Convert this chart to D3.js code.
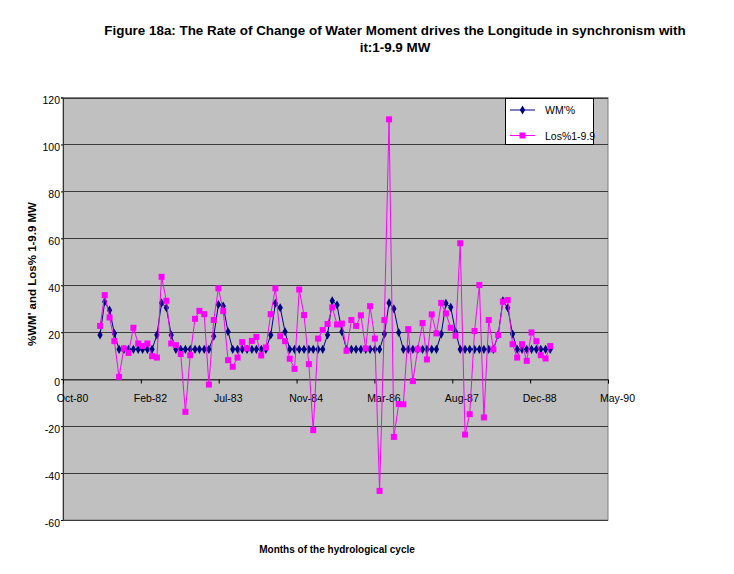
<!DOCTYPE html>
<html>
<head>
<meta charset="utf-8">
<script src="https://cdn.jsdelivr.net/npm/d3@7"></script>
<style>
  body { margin: 0; background: #fff; }
  text { font-family: "Liberation Sans", Arial, sans-serif; }
</style>
</head>
<body>
<script>
// monthly values, Jun-81 .. May-89
var wmValues = [
	18.8, 33.0, 29.4, 19.5, 12.7, 12.7, 12.7, 12.7, 12.7, 12.7, 12.7, 12.7,
	18.8, 32.5, 30.4, 18.8, 12.7, 12.7, 12.7, 12.7, 12.7, 12.7, 12.7, 12.7,
	18.3, 31.8, 31.1, 20.2, 12.7, 12.7, 12.7, 12.7, 12.7, 12.7, 12.7, 12.7,
	18.8, 32.3, 30.4, 20.2, 12.7, 12.7, 12.7, 12.7, 12.7, 12.7, 12.7, 12.7,
	18.8, 33.4, 31.6, 20.2, 12.7, 12.7, 12.7, 12.7, 12.7, 12.7, 12.7, 12.7,
	19.2, 32.5, 30.0, 19.9, 12.7, 12.7, 12.7, 12.7, 12.7, 12.7, 12.7, 12.7,
	19.2, 32.3, 30.6, 20.2, 12.7, 12.7, 12.7, 12.7, 12.7, 12.7, 12.7, 12.7,
	19.0, 33.4, 30.4, 19.2, 12.7, 12.7, 12.7, 12.7, 12.7, 12.7, 12.7, 12.7
];

var losValues = [
	22.7, 35.8, 26.3, 16.2, 1.0, 13.1, 11.2, 21.9, 15.2, 14.1, 15.2, 9.8,
	9.2, 43.6, 33.4, 15.2, 14.5, 10.7, -13.9, 10.2, 25.7, 29.1, 27.7, -2.3,
	25.2, 38.7, 29.0, 8.1, 5.3, 9.2, 15.8, 13.1, 16.3, 18.0, 10.1, 13.5,
	27.7, 38.7, 18.3, 16.2, 8.7, 4.4, 38.2, 27.3, 6.4, -21.7, 17.3, 20.9,
	23.5, 30.6, 23.3, 23.7, 12.1, 25.2, 22.7, 27.2, 13.1, 31.1, 17.3, -47.6,
	25.2, 110.7, -24.6, -10.6, -10.7, 21.3, -0.8, 12.7, 23.9, 8.4, 27.6, 19.5,
	32.5, 28.0, 21.9, 18.5, 57.9, -23.6, -14.9, 20.5, 40.1, -16.3, 25.2, 12.7,
	18.8, 33.0, 33.7, 14.9, 9.2, 14.9, 7.8, 19.9, 16.2, 10.2, 8.8, 14.1
];

var months = d3.utcMonth.range(new Date(Date.UTC(1981, 5, 1)), new Date(Date.UTC(1989, 5, 1)));

// excel date axis: 500 day steps
var tickDates = ["1980-10-06", "1982-02-18", "1983-07-03", "1984-11-14", "1986-03-29", "1987-08-11", "1988-12-23", "1990-05-07"];
var tickLabels = ["Oct-80", "Feb-82", "Jul-83", "Nov-84", "Mar-86", "Aug-87", "Dec-88", "May-90"];
var yTicks = [-60, -40, -20, 0, 20, 40, 60, 80, 100, 120];

var seriesNames = ["WM'%", "Los%1-9.9"];

var svg = d3.select("body").append("svg")
	.attr("width", 734)
	.attr("height", 574);

var plotLeft = 63, plotRight = 608, plotTop = 97.5, plotBottom = 520;

var x = d3.scaleUtc()
	.domain([new Date(tickDates[0]), new Date(tickDates[tickDates.length - 1])])
	.range([plotLeft, plotRight]);

var y = d3.scaleLinear()
	.domain([-60, 120])
	.range([plotBottom, plotTop]);

// plot area
svg.append("rect")
	.attr("x", plotLeft)
	.attr("y", plotTop)
	.attr("width", plotRight - plotLeft)
	.attr("height", plotBottom - plotTop)
	.attr("fill", "#c0c0c0")
	.attr("stroke", "#808080")
	.attr("stroke-width", 1);

// gridlines
svg.append("g")
	.selectAll("line")
	.data(yTicks)
	.enter().append("line")
	.attr("x1", plotLeft)
	.attr("x2", plotRight)
	.attr("y1", function(d) { return Math.round(y(d)) + 0.5; })
	.attr("y2", function(d) { return Math.round(y(d)) + 0.5; })
	.attr("stroke", "#3a3a3a")
	.attr("stroke-width", 1);

// y axis
var yAxis = svg.append("g")
	.attr("transform", "translate(" + plotLeft + ",0)")
	.call(d3.axisLeft(y)
		.tickValues(yTicks)
		.tickFormat(function(d) { return String(d); })
		.tickSize(2)
		.tickPadding(1));
yAxis.select(".domain").attr("stroke", "#333");
yAxis.selectAll("text")
	.attr("dy", "0.6em")
	.style("font-family", "Liberation Sans, Arial, sans-serif")
	.style("font-size", "10.5px")
	.attr("fill", "#000");

// x axis at zero
var xAxis = svg.append("g")
	.attr("transform", "translate(0," + (Math.round(y(0)) + 0.5) + ")")
	.call(d3.axisBottom(x)
		.tickValues(tickDates.map(function(d) { return new Date(d); }))
		.tickFormat(function(d, i) { return tickLabels[i]; })
		.tickSize(4)
		.tickPadding(11));
xAxis.select(".domain").attr("stroke", "#333");
xAxis.selectAll("text")
	.attr("dx", 9)
	.style("font-family", "Liberation Sans, Arial, sans-serif")
	.style("font-size", "10.5px")
	.attr("fill", "#000");

// WM series
var seriesLine = d3.line()
	.x(function(d, i) { return x(months[i]); })
	.y(function(d) { return y(d); });

svg.append("path")
	.datum(wmValues)
	.attr("fill", "none")
	.attr("stroke", "#000080")
	.attr("stroke-width", 1)
	.attr("d", seriesLine);

var diamond = d3.symbol().type(d3.symbolDiamond).size(24);

svg.append("g")
	.selectAll("path")
	.data(wmValues)
	.enter().append("path")
	.attr("transform", function(d, i) {
		return "translate(" + x(months[i]) + "," + y(d) + ")";
	})
	.attr("d", diamond)
	.attr("fill", "#000080");

// Los series
svg.append("path")
	.datum(losValues)
	.attr("fill", "none")
	.attr("stroke", "#ff00ff")
	.attr("stroke-width", 1)
	.attr("d", seriesLine);

svg.append("g")
	.selectAll("rect")
	.data(losValues)
	.enter().append("rect")
	.attr("x", function(d, i) { return x(months[i]) - 3; })
	.attr("y", function(d) { return y(d) - 3; })
	.attr("width", 6)
	.attr("height", 6)
	.attr("fill", "#ff00ff");

// legend
var legend = svg.append("g");
legend.append("rect")
	.attr("x", 505.5)
	.attr("y", 98.5)
	.attr("width", 88)
	.attr("height", 46)
	.attr("fill", "#fff")
	.attr("stroke", "#000");

legend.append("line")
	.attr("x1", 510).attr("x2", 535)
	.attr("y1", 110).attr("y2", 110)
	.attr("stroke", "#000080");
legend.append("path")
	.attr("transform", "translate(522.5,110)")
	.attr("d", diamond)
	.attr("fill", "#000080");
legend.append("line")
	.attr("x1", 510).attr("x2", 535)
	.attr("y1", 135.5).attr("y2", 135.5)
	.attr("stroke", "#ff00ff");
legend.append("rect")
	.attr("x", 519.5).attr("y", 132.5)
	.attr("width", 6).attr("height", 6)
	.attr("fill", "#ff00ff");

legend.selectAll("text.leg")
	.data(seriesNames)
	.enter().append("text")
	.attr("class", "leg")
	.attr("x", 545)
	.attr("y", function(d, i) { return i ? 139.5 : 114; })
	.style("font-size", "10.5px")
	.text(function(d) { return d; });

// titles
var title = svg.append("text")
	.attr("text-anchor", "middle")
	.style("font-size", "13.4px")
	.style("font-weight", "bold");
title.append("tspan")
	.attr("x", 395).attr("y", 35)
	.text("Figure 18a: The Rate of Change of Water Moment drives the Longitude in synchronism with");
title.append("tspan")
	.attr("x", 395).attr("y", 52)
	.text("it:1-9.9 MW");

svg.append("text")
	.attr("x", 337)
	.attr("y", 553)
	.attr("text-anchor", "middle")
	.style("font-size", "10px")
	.style("font-weight", "bold")
	.text("Months of the hydrological cycle");

svg.append("text")
	.attr("transform", "translate(36,274) rotate(-90)")
	.attr("text-anchor", "middle")
	.style("font-size", "11.5px")
	.style("font-weight", "bold")
	.text("%WM' and Los% 1-9.9 MW");
</script>
</body>
</html>
